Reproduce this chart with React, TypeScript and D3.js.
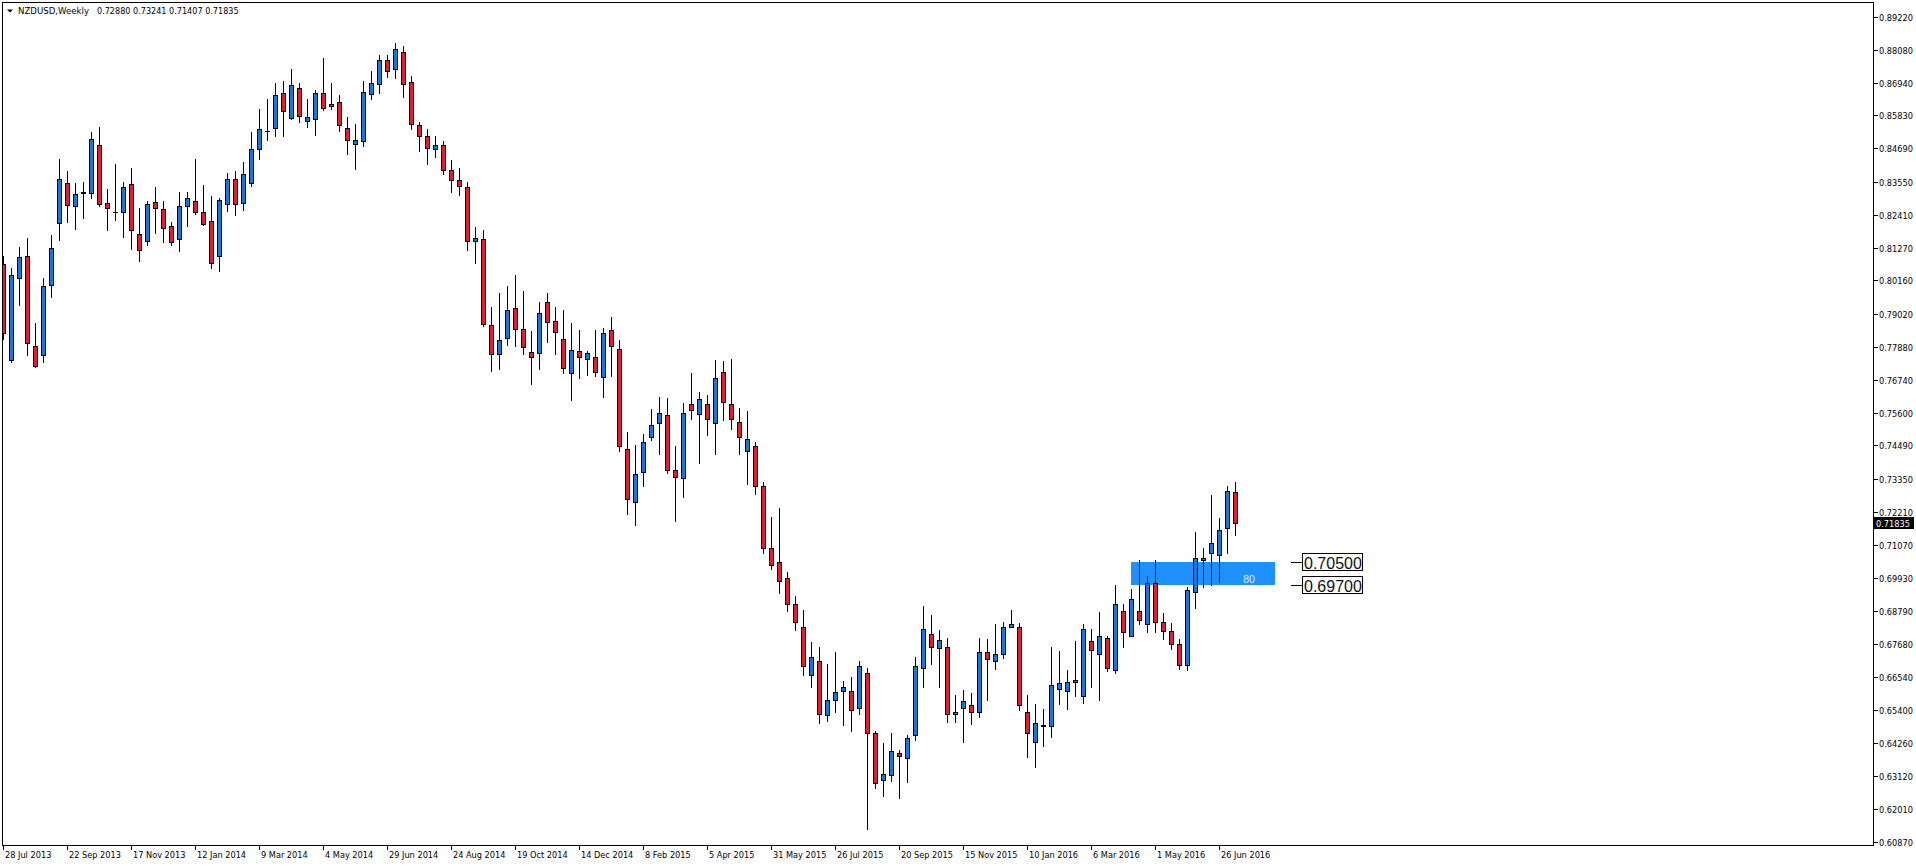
import React from "react";
import * as d3 from "d3";

// Weekly NZDUSD bars, 28 Jul 2013 .. 10 Jul 2016
const opens = [
  0.8073, 0.7742, 0.8025, 0.81, 0.7792, 0.7761, 0.7999, 0.8214, 0.8351, 0.8272,
  0.8317, 0.8317, 0.8481, 0.8282, 0.8251, 0.8251, 0.8348, 0.8176, 0.8152, 0.8286,
  0.8262, 0.8203, 0.8159, 0.8272, 0.8289, 0.8251, 0.822, 0.8099, 0.8279, 0.8365,
  0.8282, 0.835, 0.8468, 0.853, 0.854, 0.866, 0.8574, 0.8677, 0.8564, 0.8571,
  0.866, 0.8615, 0.8629, 0.854, 0.8485, 0.8495, 0.8656, 0.8691, 0.8773, 0.8742,
  0.88, 0.8698, 0.855, 0.851, 0.8468, 0.848, 0.8395, 0.836, 0.8335, 0.815,
  0.8158, 0.7864, 0.7764, 0.7819, 0.7922, 0.785, 0.7771, 0.7767, 0.7943, 0.7877,
  0.7816, 0.7699, 0.7774, 0.7747, 0.7754, 0.7685, 0.7846, 0.7781, 0.7438, 0.7256,
  0.7356, 0.7479, 0.7527, 0.7555, 0.7366, 0.7338, 0.7592, 0.7558, 0.7592, 0.7527,
  0.7702, 0.7592, 0.7531, 0.7431, 0.7448, 0.7311, 0.7095, 0.705, 0.6995, 0.6903,
  0.6827, 0.6662, 0.6707, 0.6522, 0.6573, 0.6604, 0.6607, 0.6546, 0.6669, 0.6463,
  0.6299, 0.6316, 0.6391, 0.6374, 0.6456, 0.6683, 0.6803, 0.6752, 0.6758, 0.6528,
  0.6546, 0.6559, 0.6535, 0.6741, 0.6707, 0.6731, 0.6827, 0.6827, 0.6535, 0.6429,
  0.6485, 0.6484, 0.6614, 0.6607, 0.6642, 0.6587, 0.6779, 0.6731, 0.6789, 0.6676,
  0.6882, 0.6796, 0.6879, 0.6837, 0.6975, 0.6841, 0.681, 0.6768, 0.6695, 0.6947,
  0.7057, 0.7078, 0.7074, 0.7167, 0.7288,
];
const highs = [
  0.8099, 0.8057, 0.8129, 0.8163, 0.7871, 0.8023, 0.817, 0.8434, 0.839, 0.8349,
  0.8352, 0.8524, 0.8541, 0.8331, 0.8414, 0.8355, 0.8403, 0.8266, 0.8289, 0.8335,
  0.8287, 0.8215, 0.8318, 0.8318, 0.8431, 0.8345, 0.8304, 0.8297, 0.8383, 0.8393,
  0.8424, 0.8524, 0.8603, 0.864, 0.8695, 0.8699, 0.8743, 0.8695, 0.8637, 0.8668,
  0.8778, 0.8695, 0.8654, 0.8577, 0.8554, 0.8699, 0.8736, 0.8791, 0.8791, 0.8832,
  0.8822, 0.8718, 0.8561, 0.8535, 0.851, 0.8495, 0.843, 0.84, 0.8355, 0.82,
  0.819, 0.7926, 0.7974, 0.7998, 0.8033, 0.7978, 0.7841, 0.794, 0.7974, 0.7926,
  0.7913, 0.7871, 0.7847, 0.7772, 0.7847, 0.7851, 0.7889, 0.781, 0.7494, 0.7449,
  0.7487, 0.7573, 0.7614, 0.7611, 0.7446, 0.7594, 0.7696, 0.7631, 0.7621, 0.7741,
  0.7738, 0.7745, 0.7576, 0.7566, 0.746, 0.7322, 0.7203, 0.7233, 0.7014, 0.6931,
  0.6883, 0.6773, 0.6756, 0.6698, 0.6739, 0.6639, 0.6653, 0.6708, 0.6686, 0.6468,
  0.6427, 0.6461, 0.6403, 0.6456, 0.6722, 0.6897, 0.6866, 0.6814, 0.6787, 0.6591,
  0.6608, 0.6598, 0.6787, 0.6784, 0.6835, 0.6842, 0.6883, 0.6838, 0.6591, 0.656,
  0.6543, 0.6756, 0.6742, 0.6677, 0.6777, 0.6834, 0.6818, 0.6876, 0.6794, 0.6969,
  0.6904, 0.6955, 0.7055, 0.7, 0.7055, 0.6873, 0.6838, 0.6785, 0.6962, 0.7151,
  0.7096, 0.7278, 0.7198, 0.7308, 0.73241,
];
const lows = [
  0.7816, 0.7735, 0.7931, 0.7759, 0.7719, 0.7735, 0.7958, 0.8154, 0.8216, 0.8191,
  0.8229, 0.8298, 0.8271, 0.8188, 0.8223, 0.8164, 0.8123, 0.8082, 0.8137, 0.8178,
  0.8147, 0.8137, 0.8116, 0.8202, 0.8243, 0.8205, 0.8058, 0.8048, 0.8253, 0.824,
  0.8257, 0.8339, 0.8432, 0.8497, 0.8511, 0.8511, 0.8571, 0.8559, 0.8542, 0.8514,
  0.8601, 0.8605, 0.8528, 0.8449, 0.8398, 0.8477, 0.8638, 0.8658, 0.8713, 0.871,
  0.8645, 0.8536, 0.8459, 0.8415, 0.844, 0.838, 0.832, 0.831, 0.812, 0.8076,
  0.7859, 0.7704, 0.7711, 0.7794, 0.7789, 0.7763, 0.766, 0.7711, 0.7804, 0.7763,
  0.7697, 0.7605, 0.768, 0.7691, 0.7687, 0.7615, 0.7687, 0.743, 0.7214, 0.7176,
  0.731, 0.7468, 0.742, 0.7354, 0.719, 0.7272, 0.754, 0.7389, 0.7485, 0.742,
  0.7536, 0.7505, 0.742, 0.7317, 0.7282, 0.7081, 0.7026, 0.6942, 0.6882, 0.6815,
  0.6661, 0.662, 0.6496, 0.6503, 0.6534, 0.6489, 0.6469, 0.6527, 0.6133, 0.6271,
  0.6244, 0.6295, 0.6237, 0.6292, 0.6439, 0.6621, 0.6699, 0.662, 0.65, 0.65,
  0.6432, 0.6493, 0.6515, 0.6575, 0.6682, 0.6719, 0.6824, 0.6541, 0.638, 0.6345,
  0.6417, 0.6448, 0.6561, 0.6544, 0.6587, 0.6566, 0.6621, 0.6575, 0.6673, 0.6668,
  0.6757, 0.6793, 0.6834, 0.6807, 0.6807, 0.6785, 0.675, 0.668, 0.6676, 0.6891,
  0.6963, 0.6971, 0.698, 0.708, 0.71407,
];
const closes = [
  0.7836, 0.8035, 0.8097, 0.7802, 0.7723, 0.7997, 0.8128, 0.8365, 0.8275, 0.8313,
  0.832, 0.8502, 0.8279, 0.8265, 0.8251, 0.8337, 0.819, 0.8121, 0.8279, 0.8265,
  0.8197, 0.8148, 0.8272, 0.8299, 0.8251, 0.821, 0.8076, 0.8293, 0.8365, 0.8279,
  0.8382, 0.8468, 0.8536, 0.853, 0.8653, 0.8598, 0.8687, 0.8581, 0.8577, 0.866,
  0.8608, 0.8622, 0.855, 0.8499, 0.8499, 0.8663, 0.8694, 0.8773, 0.8735, 0.8811,
  0.8691, 0.8553, 0.8512, 0.847, 0.848, 0.8395, 0.836, 0.834, 0.815, 0.816,
  0.7867, 0.7764, 0.7812, 0.7915, 0.785, 0.7788, 0.7754, 0.7905, 0.7874, 0.784,
  0.7716, 0.7778, 0.7754, 0.7767, 0.7702, 0.7836, 0.7792, 0.7448, 0.7266, 0.7352,
  0.7459, 0.752, 0.7562, 0.7366, 0.7342, 0.7562, 0.7572, 0.761, 0.7541, 0.7682,
  0.7599, 0.7538, 0.7479, 0.7472, 0.7311, 0.7095, 0.704, 0.6984, 0.6903, 0.6844,
  0.6693, 0.6721, 0.6525, 0.6573, 0.6601, 0.6618, 0.6542, 0.669, 0.646, 0.6288,
  0.6319, 0.6398, 0.6384, 0.6443, 0.6693, 0.6817, 0.6755, 0.6782, 0.6525, 0.6535,
  0.657, 0.6535, 0.6738, 0.6717, 0.6734, 0.6827, 0.6837, 0.6556, 0.6463, 0.6494,
  0.649, 0.6625, 0.6632, 0.6635, 0.6635, 0.682, 0.6745, 0.6796, 0.6686, 0.6906,
  0.6807, 0.692, 0.6848, 0.6978, 0.6841, 0.681, 0.6768, 0.6695, 0.6954, 0.7061,
  0.7064, 0.7115, 0.716, 0.7294, 0.71835,
];

// one date label every 8 bars, starting at the first bar
const dateLabels = [
  "28 Jul 2013", "22 Sep 2013", "17 Nov 2013", "12 Jan 2014", "9 Mar 2014",
  "4 May 2014", "29 Jun 2014", "24 Aug 2014", "19 Oct 2014", "14 Dec 2014",
  "8 Feb 2015", "5 Apr 2015", "31 May 2015", "26 Jul 2015", "20 Sep 2015",
  "15 Nov 2015", "10 Jan 2016", "6 Mar 2016", "1 May 2016", "26 Jun 2016",
];
const labelEvery = 8;

const priceTicks = [
  0.8922, 0.8808, 0.8694, 0.8583, 0.8469, 0.8355, 0.8241, 0.8127, 0.8016,
  0.7902, 0.7788, 0.7674, 0.756, 0.7449, 0.7335, 0.7221, 0.7107, 0.6993,
  0.6879, 0.6768, 0.6654, 0.654, 0.6426, 0.6312, 0.6201, 0.6087,
];

// support zone rectangle (bar indices, prices) and its price labels
const zoneBars = [141, 159];
const zonePrices = [0.705, 0.697];
const zoneText = "80";
const labelBar = 161;

const symbol = "NZDUSD,Weekly";

const BULL = "#2272db";
const BEAR = "#d9222b";
const ZONE = "#1e90ff";
const AXIS_FONT = "'DejaVu Sans', Verdana, sans-serif";

export default function App() {
  const W = 1916;
  const H = 866;
  const plot = { left: 2, top: 2, right: 1873, bottom: 845 };
  const n = opens.length;

  const x = d3.scaleLinear().domain([0, n - 1]).range([3, 1235]);
  const y = d3.scaleLinear().domain([0.6087, 0.8922]).range([842, 16.5]);

  const fmt = d3.format(".5f");
  const last = n - 1;
  const px = (v: number) => Math.round(v);

  const candles = opens.map((o, i) => {
    const c = closes[i];
    const cx = px(x(i));
    const top = px(y(Math.max(o, c)));
    const bot = px(y(Math.min(o, c)));
    const fill = c > o ? BULL : BEAR;
    return (
      <g key={i}>
        <line
          x1={cx + 0.5}
          x2={cx + 0.5}
          y1={px(y(highs[i]))}
          y2={px(y(lows[i])) + 1}
          stroke="#000"
        />
        {bot - top < 1 ? (
          <line x1={cx - 2} x2={cx + 3} y1={top + 0.5} y2={top + 0.5} stroke="#000" />
        ) : (
          <rect
            x={cx - 1.5}
            y={top + 0.5}
            width={4}
            height={bot - top}
            fill={fill}
            stroke="#000"
          />
        )}
      </g>
    );
  });

  const zx0 = px(x(zoneBars[0]));
  const zx1 = px(x(zoneBars[1]));
  const zy0 = px(y(zonePrices[0]));
  const zy1 = px(y(zonePrices[1]));
  const lx = px(x(labelBar));

  const lastY = px(y(closes[last]));

  return (
    <div style={{ position: "absolute", left: 0, top: 0 }}>
      <svg width={W} height={H} style={{ display: "block", background: "#fff" }}>
        <defs>
          <clipPath id="plot-clip">
            <rect
              x={plot.left + 1}
              y={plot.top + 1}
              width={plot.right - plot.left - 1}
              height={plot.bottom - plot.top - 1}
            />
          </clipPath>
        </defs>

        <g clipPath="url(#plot-clip)" shapeRendering="crispEdges">
          {/* zone is drawn as background, candles go over it */}
          <rect x={zx0} y={zy0} width={zx1 - zx0} height={zy1 - zy0} fill={ZONE} />
          <text
            x={px(x(zoneBars[1] - 3.3))}
            y={zy1 - 2}
            fontFamily="'Liberation Sans', Arial, sans-serif"
            fontSize={10.5}
            fill="#e4efff"
            textAnchor="middle"
          >
            {zoneText}
          </text>
          {candles}
        </g>

        {/* price labels for the zone edges */}
        {zonePrices.map((p, k) => {
          const yy = px(y(p));
          return (
            <g key={k}>
              <line x1={lx} x2={lx + 11} y1={yy + 0.5} y2={yy + 0.5} stroke="#000" shapeRendering="crispEdges" />
              <rect
                x={lx + 11.5}
                y={yy - 8.5}
                width={60}
                height={17}
                fill="#fff"
                stroke="#000"
                shapeRendering="crispEdges"
              />
              <text
                x={lx + 13}
                y={yy + 1}
                dominantBaseline="central"
                fontFamily="'Liberation Sans', Arial, sans-serif"
                fontSize={16}
                fill="#111"
              >
                {fmt(p)}
              </text>
            </g>
          );
        })}

        {/* frame */}
        <rect
          x={plot.left + 0.5}
          y={plot.top + 0.5}
          width={plot.right - plot.left}
          height={plot.bottom - plot.top}
          fill="none"
          stroke="#000"
          shapeRendering="crispEdges"
        />

        {/* header */}
        <path d="M7,9.5 L13,9.5 L10,12.5 Z" fill="#000" />
        <text x={18} y={11} dominantBaseline="central" fontFamily={AXIS_FONT} fontSize={8.6} fill="#000">
          {symbol}
        </text>
        <text x={97} y={11} dominantBaseline="central" fontFamily={AXIS_FONT} fontSize={8.1} fill="#000">
          {[opens[last], highs[last], lows[last], closes[last]].map(fmt).join(" ")}
        </text>

        {/* price axis */}
        <g fontFamily={AXIS_FONT} fontSize={8.2} fill="#000">
          {priceTicks.map((p) => {
            const yy = px(y(p));
            return (
              <g key={p}>
                <line
                  x1={plot.right}
                  x2={plot.right + 5}
                  y1={yy + 0.5}
                  y2={yy + 0.5}
                  stroke="#000"
                  shapeRendering="crispEdges"
                />
                <text x={plot.right + 6} y={yy + 0.5} dominantBaseline="central">
                  {fmt(p)}
                </text>
              </g>
            );
          })}
          <rect x={plot.right + 1} y={lastY - 6} width={40} height={12} fill="#000" />
          <text x={plot.right + 3} y={lastY + 0.5} dominantBaseline="central" fill="#fff">
            {fmt(closes[last])}
          </text>
        </g>

        {/* time axis */}
        <g fontFamily={AXIS_FONT} fontSize={8.2} fill="#000">
          {dateLabels.map((d, k) => {
            const xx = px(x(k * labelEvery));
            return (
              <g key={d}>
                <line
                  x1={xx + 0.5}
                  x2={xx + 0.5}
                  y1={plot.bottom}
                  y2={plot.bottom + 5}
                  stroke="#000"
                  shapeRendering="crispEdges"
                />
                <text x={xx + 2} y={855} dominantBaseline="central">
                  {d}
                </text>
              </g>
            );
          })}
        </g>
      </svg>
    </div>
  );
}
